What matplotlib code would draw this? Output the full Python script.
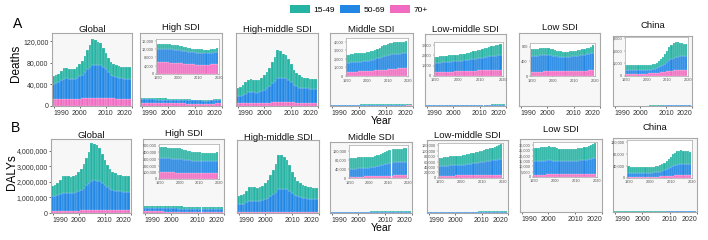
import matplotlib
matplotlib.use("Agg")
import matplotlib.pyplot as plt
import numpy as np
from matplotlib.patches import Patch
from matplotlib.ticker import FuncFormatter

plt.rcParams['font.family'] = ['Liberation Sans', 'DejaVu Sans']

years = list(range(1990, 2020))
age_groups = ["15-49", "50-69", "70+"]
regions = ["Global", "High SDI", "High-middle SDI", "Middle SDI", "Low-middle SDI", "Low SDI", "China"]
x_ticks = [1990, 2000, 2010, 2020]

# ---------------- Deaths ----------------
global_deaths_70 = [12500,12800,13000,13200,13500,13500,13400,13300,13300,13500,13800,14000,14300,14700,15000,15400,15600,15600,15600,15400,15000,14600,14200,13900,13700,13500,13400,13300,13200,13200]
global_deaths_5069 = [29000,30000,32000,34000,37000,37500,37000,36500,37000,38500,41000,44000,48000,53000,57000,60000,60500,60000,59500,57000,53000,48000,44000,41000,40000,39000,38000,37500,37000,37000]
global_deaths_1549 = [13500,14200,15000,17800,19500,19000,18600,18200,18700,20000,23200,26000,29700,35300,40000,48600,45900,42400,40900,35600,30000,25400,23800,23100,22300,21500,21600,21200,21800,21800]

high_deaths_70 = [5800,5800,5700,5700,5600,5600,5500,5500,5400,5400,5300,5200,5100,5000,4900,4800,4700,4600,4600,4500,4500,4500,4500,4500,4500,4500,4600,4600,4700,4800]
high_deaths_5069 = [6500,6500,6600,6600,6500,6500,6500,6400,6400,6300,6300,6200,6100,6000,6000,5900,5900,5800,5800,5700,5700,5700,5700,5600,5600,5600,5600,5700,5800,5900]
high_deaths_1549 = [2400,2400,2400,2400,2300,2300,2300,2300,2200,2200,2200,2100,2100,2000,2000,1900,1900,1800,1800,1800,1700,1700,1700,1700,1700,1700,1700,1800,1800,1900]

hm_deaths_70 = [5000,5100,5200,5300,5500,5500,5500,5400,5500,5600,5800,6000,6300,6700,7000,7400,7600,7600,7600,7400,7000,6700,6400,6100,5900,5800,5700,5700,5600,5600]
hm_deaths_5069 = [13000,14000,15500,17500,20000,20500,20000,19500,20000,21500,24000,27000,31000,36000,40000,44000,45000,44500,44000,41500,37500,33000,30000,28000,27500,27000,27000,26500,26500,26500]
hm_deaths_1549 = [16000,16900,18300,21200,23500,23500,23000,23100,23500,24900,27700,30500,33700,39300,44000,51600,48400,44900,43400,38100,32500,27300,24100,22400,21100,19700,18800,18300,18400,17900]

mid_deaths_70 = [470,480,490,500,510,520,530,540,550,560,580,600,620,640,660,680,700,720,740,760,780,800,820,840,860,880,900,920,940,950]
mid_deaths_5069 = [1050,1080,1100,1120,1140,1140,1140,1140,1140,1160,1180,1200,1220,1270,1320,1370,1440,1510,1560,1610,1630,1670,1690,1710,1700,1720,1710,1720,1700,1720]
mid_deaths_1549 = [930,940,960,980,1000,990,980,970,960,980,990,1000,1010,1040,1070,1100,1160,1220,1250,1280,1290,1330,1340,1350,1340,1350,1340,1360,1360,1380]

lm_deaths_70 = [330,340,350,360,370,380,390,400,410,420,430,440,450,460,470,480,490,500,510,520,530,540,550,555,560,565,570,575,580,590]
lm_deaths_5069 = [910,930,940,950,960,970,980,990,1000,1000,1000,1010,1020,1040,1060,1080,1110,1130,1160,1180,1210,1240,1270,1300,1320,1350,1370,1390,1410,1430]
lm_deaths_1549 = [560,580,590,610,620,620,630,630,630,630,630,630,630,650,670,700,720,750,770,800,820,840,860,885,920,945,980,1015,1050,1080]

low_deaths_70 = [120,121,122,123,124,125,126,127,128,129,130,131,132,133,134,135,136,137,138,139,140,142,144,146,148,150,152,154,157,160]
low_deaths_5069 = [425,430,435,438,440,443,446,446,444,436,425,415,405,400,397,395,395,395,398,401,406,411,416,421,426,433,440,450,464,485]
low_deaths_1549 = [185,189,193,194,196,197,198,197,193,185,175,164,153,147,144,140,139,138,139,140,144,147,150,153,156,162,168,176,189,205]

china_deaths_70 = [180,180,180,180,180,180,180,180,180,185,190,195,200,210,220,235,250,270,295,320,350,380,410,430,450,460,470,475,480,485]
china_deaths_5069 = [300,300,295,290,290,285,285,285,285,290,295,300,305,320,345,375,420,480,560,660,760,860,950,1010,1050,1070,1070,1070,1080,1080]
china_deaths_1549 = [420,410,405,400,400,395,395,395,395,395,395,395,395,400,415,440,480,550,645,770,890,1010,1090,1140,1150,1120,1080,1035,1000,985]

# ---------------- DALYs ----------------
global_dalys_70 = [140000,142000,145000,148000,152000,153000,153000,152000,153000,155000,158000,162000,166000,172000,178000,185000,188000,188000,187000,184000,179000,174000,170000,167000,165000,164000,163000,163000,163000,163000]
global_dalys_5069 = [950000,970000,1000000,1060000,1130000,1150000,1140000,1130000,1140000,1180000,1250000,1340000,1450000,1600000,1750000,1880000,1900000,1880000,1850000,1760000,1620000,1480000,1380000,1310000,1270000,1240000,1220000,1210000,1200000,1200000]
global_dalys_1549 = [660000,688000,755000,892000,1068000,1097000,1057000,1018000,1057000,1115000,1242000,1348000,1534000,1728000,1972000,2435000,2362000,2282000,2113000,1856000,1601000,1396000,1250000,1173000,1115000,1046000,1037000,1027000,1037000,1037000]

high_dalys_70 = [100000,100000,99000,99000,98000,98000,97000,97000,96000,96000,95000,94000,93000,92000,91000,90000,89000,88000,88000,87000,87000,87000,87000,87000,87000,88000,88000,89000,90000,91000]
high_dalys_5069 = [210000,211000,211000,210000,209000,209000,208000,208000,207000,206000,204000,201000,197000,193000,190000,187000,185000,183000,182000,181000,180000,179000,178000,177000,176000,175000,175000,176000,178000,180000]
high_dalys_1549 = [165000,167000,165000,163000,163000,163000,163000,163000,162000,160000,159000,155000,150000,145000,141000,138000,136000,134000,132000,132000,131000,129000,127000,126000,125000,123000,123000,123000,124000,125000]

hm_dalys_70 = [55000,56000,58000,60000,63000,64000,64000,63000,64000,65000,68000,71000,74000,78000,82000,86000,88000,88000,87000,85000,81000,77000,74000,72000,70000,69000,68000,68000,68000,68000]
hm_dalys_5069 = [500000,520000,560000,630000,700000,720000,710000,700000,710000,750000,820000,900000,1000000,1150000,1300000,1450000,1500000,1480000,1450000,1350000,1220000,1100000,1010000,950000,910000,880000,860000,850000,840000,840000]
hm_dalys_1549 = [545000,574000,632000,750000,917000,936000,896000,857000,886000,945000,1062000,1179000,1376000,1572000,1818000,2264000,2162000,2082000,1913000,1665000,1399000,1173000,1016000,928000,860000,781000,762000,742000,742000,732000]

mid_dalys_70 = [6000,6200,6400,6600,6800,7000,7200,7400,7600,7800,8000,8300,8600,8900,9200,9500,9800,10100,10400,10700,11000,11300,11600,11900,12200,12500,12800,13100,13400,13700]
mid_dalys_5069 = [34000,34500,35000,35500,36000,36500,36800,37000,37200,37500,38000,38800,39800,41000,42500,44000,46000,48000,50000,52000,53500,55000,56000,56500,57000,57000,57500,57500,58000,58500]
mid_dalys_1549 = [46000,46300,46600,46900,47200,47500,47000,45600,45200,44700,45000,44900,45600,46100,47300,48500,50200,51900,53600,55300,56500,57700,58400,58600,58800,58500,58700,58400,58600,58800]

lm_dalys_70 = [7500,7700,7900,8100,8300,8500,8700,8900,9100,9200,9300,9400,9500,9700,9900,10100,10300,10500,10700,10900,11100,11300,11500,11700,11900,12000,12100,12200,12400,12600]
lm_dalys_5069 = [34500,35300,36100,36500,36900,37300,37700,37900,38100,38300,38500,38900,39300,40200,41100,42000,43000,44000,45000,46000,47000,48000,49000,50000,51000,52200,53400,54500,55600,57000]
lm_dalys_1549 = [30000,31000,32000,32400,32800,33200,33600,33700,33800,34000,34200,34700,35200,36100,37000,37900,38700,39500,40300,41100,41900,42700,43500,44300,45100,46800,48500,50300,52000,54400]

low_dalys_70 = [2200,2220,2240,2260,2280,2300,2320,2340,2360,2380,2400,2420,2440,2460,2480,2500,2520,2540,2560,2580,2600,2620,2640,2660,2680,2700,2720,2740,2770,2800]
low_dalys_5069 = [12600,12700,12800,12900,13000,13100,13200,13200,13200,13100,12900,12700,12500,12400,12300,12300,12300,12300,12400,12500,12600,12800,13000,13200,13400,13700,14000,14300,14700,15100]
low_dalys_1549 = [12200,12380,12560,12740,12920,13000,13080,13160,13040,12820,12500,12180,11860,11640,11520,11400,11380,11360,11340,11420,11500,11580,11660,11740,11920,12100,12280,12660,13230,14100]

china_dalys_70 = [4000,4000,4000,4000,4000,4000,4000,4000,4000,4100,4200,4300,4400,4600,4800,5100,5400,5800,6300,6800,7300,7800,8300,8700,9000,9300,9500,9700,9900,10000]
china_dalys_5069 = [14000,13800,13600,13500,13400,13300,13200,13100,13100,13200,13300,13500,13700,14200,15000,16200,18000,20500,23500,27000,30000,32500,34500,35500,36000,36200,36000,35800,35800,35800]
china_dalys_1549 = [20000,19700,19400,19300,19100,19000,19000,18900,18900,18900,19000,19200,19400,19700,20200,21200,22600,24700,27200,30200,33700,37700,41200,43800,45000,45500,44500,43500,42300,41200]

# inset tick values
inset_ticks_deaths = [None, [0,4000,8000,12000,16000], None, [0,1000,2000,3000,4000], [0,1000,2000,3000], [0,400,800], [0,1000,2000,3000]]
inset_ticks_dalys = [None, [0,100000,200000,300000,400000,500000], None, [0,40000,80000,120000], [0,20000,40000,60000,80000,100000,120000], [0,5000,10000,15000,20000,25000,30000], [0,40000,80000,120000]]
main_ticks_deaths = [0, 40000, 80000, 120000]
main_ticks_dalys = [0, 1000000, 2000000, 3000000, 4000000]

deaths = [
    (global_deaths_1549, global_deaths_5069, global_deaths_70),
    (high_deaths_1549, high_deaths_5069, high_deaths_70),
    (hm_deaths_1549, hm_deaths_5069, hm_deaths_70),
    (mid_deaths_1549, mid_deaths_5069, mid_deaths_70),
    (lm_deaths_1549, lm_deaths_5069, lm_deaths_70),
    (low_deaths_1549, low_deaths_5069, low_deaths_70),
    (china_deaths_1549, china_deaths_5069, china_deaths_70),
]
dalys = [
    (global_dalys_1549, global_dalys_5069, global_dalys_70),
    (high_dalys_1549, high_dalys_5069, high_dalys_70),
    (hm_dalys_1549, hm_dalys_5069, hm_dalys_70),
    (mid_dalys_1549, mid_dalys_5069, mid_dalys_70),
    (lm_dalys_1549, lm_dalys_5069, lm_dalys_70),
    (low_dalys_1549, low_dalys_5069, low_dalys_70),
    (china_dalys_1549, china_dalys_5069, china_dalys_70),
]

C_TEAL = '#25b3a3'
C_BLUE = '#2186e4'
C_PINK = '#f06cc2'
colors = [C_TEAL, C_BLUE, C_PINK]

W, H = 708, 240
fig = plt.figure(figsize=(W/100, H/100), dpi=100)

# layout (pixel boxes: left, top, right, bottom)
boxes_A = [(52,33,132,106),(140,33,222,106),(236,33,318,106),(330,33,413,106),(425,34,506,106),(519,33,600,106),(613,36,692,106)]
boxes_B = [(51,139,131,213),(143,139,224,213),(237,140,319,213),(330,142,412,213),(427,140,508,213),(520,139,602,212),(613,138,697,212)]
insets_A = [None,[0.20,0.44,0.76,0.48],None,[0.19,0.41,0.75,0.52],[0.11,0.42,0.85,0.47],[0.14,0.41,0.80,0.45],[0.15,0.43,0.80,0.55]]
insets_B = [None,[0.20,0.46,0.74,0.47],None,[0.23,0.49,0.72,0.47],[0.14,0.48,0.80,0.48],[0.16,0.48,0.78,0.48],[0.17,0.46,0.77,0.51]]
inset_ylim_A = [None,17000,None,4400,3300,900,3050]
inset_ylim_B = [None,520000,None,145000,128000,33000,125000]
title_y_A = [29,27,30,30,30,28,25]
title_y_B = [136,133,137,137,136,129,127]

def fmt(v, pos=None):
    return f"{int(v):,}"

def draw(ax, series, width=1.0, edge=(1, 1, 1, 0.55)):
    s1549, s5069, s70 = [np.array(s) for s in series]
    kw = dict(width=width, lw=0.25, edgecolor=edge)
    ax.bar(years, s70, color=C_PINK, **kw)
    ax.bar(years, s5069, bottom=s70, color=C_BLUE, **kw)
    ax.bar(years, s1549, bottom=s70 + s5069, color=C_TEAL, **kw)

def style(ax, face='#f7f7f7'):
    ax.set_facecolor(face)
    for sp in ax.spines.values():
        sp.set_color('#a8a8a8')
        sp.set_linewidth(0.8)

def make_row(boxes, data, insets, inset_ylims, inset_ticks, main_ticks, ylim_main, title_ys):
    for i, (l, t, r, b) in enumerate(boxes):
        ax = fig.add_axes([l/W, 1-b/H, (r-l)/W, (b-t)/H])
        style(ax)
        draw(ax, data[i])
        ax.set_xlim(1989.4, 2020.0)
        ax.set_ylim(0, ylim_main)
        ax.set_xticks(x_ticks)
        ax.tick_params(axis='x', labelsize=5.0, length=1.5, width=0.5, pad=1.5, colors='#333333')
        xl = ax.get_xticklabels()
        xl[0].set_horizontalalignment('left')
        xl[-1].set_horizontalalignment('right')
        if i == 0:
            ax.set_yticks(main_ticks)
            ax.yaxis.set_major_formatter(FuncFormatter(fmt))
            ax.tick_params(axis='y', labelsize=5.0, length=1.5, width=0.5, pad=1, colors='#333333')
        else:
            ax.set_yticks([])
        fig.text(((l+r)/2)/W, 1-title_ys[i]/H, regions[i], ha='center', va='center', fontsize=6.8, color='#111111')
        if insets[i] is not None:
            ia = ax.inset_axes(insets[i])
            style(ia, face='white')
            for sp in ia.spines.values():
                sp.set_linewidth(0.5)
            draw(ia, data[i])
            ia.set_xlim(1989.4, 2020.0)
            ia.set_ylim(0, inset_ylims[i])
            ia.set_xticks(x_ticks)
            ia.set_yticks(inset_ticks[i])
            ia.yaxis.set_major_formatter(FuncFormatter(fmt))
            ia.tick_params(labelsize=2.8, length=1, width=0.3, pad=0.8, colors='#555555')

make_row(boxes_A, deaths, insets_A, inset_ylim_A, inset_ticks_deaths, main_ticks_deaths, 135000, title_y_A)
make_row(boxes_B, dalys, insets_B, inset_ylim_B, inset_ticks_dalys, main_ticks_dalys, 4750000, title_y_B)

fig.text(18/W, 1-24/H, "A", fontsize=10, ha='center', va='center')
fig.text(16/W, 1-128/H, "B", fontsize=10, ha='center', va='center')
fig.text(16/W, 1-63/H, "Deaths", fontsize=8.5, rotation=90, ha='center', va='center')
fig.text(12/W, 1-172/H, "DALYs", fontsize=8.5, rotation=90, ha='center', va='center')
fig.text(381/W, 1-121/H, "Year", fontsize=7.5, ha='center', va='center')
fig.text(381/W, 1-228/H, "Year", fontsize=7.5, ha='center', va='center')

handles = [Patch(facecolor=c, edgecolor='none') for c in colors]
fig.legend(handles, age_groups, loc='center', bbox_to_anchor=(0.507, 0.96), ncol=3, frameon=False,
           fontsize=6, handlelength=2.4, handleheight=1.0, handletextpad=0.4, columnspacing=0.6,
           borderpad=0)

fig.savefig("out.png", dpi=100)
